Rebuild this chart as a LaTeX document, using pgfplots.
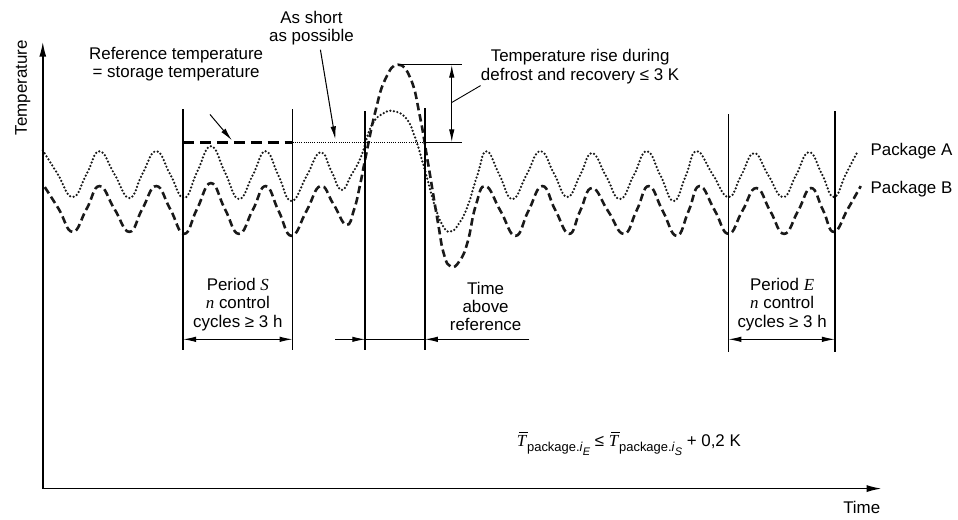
\documentclass[border=0pt]{standalone}
\usepackage{pgfplots}
\pgfplotsset{compat=1.18}
\usetikzlibrary{arrows.meta}
\usepackage{fontspec}
\setmainfont{Liberation Sans}
\newfontfamily\seriffam{Liberation Serif}
\newcommand{\Tbar}[1]{\leavevmode\rlap{\kern0.12em\raisebox{0.8em}{\rule{0.55em}{0.8bp}}}{\seriffam\itshape T\kern0.05em}\raisebox{-0.5ex}{\fontsize{13bp}{13bp}\selectfont package.\textit{i}\raisebox{-0.55ex}{\fontsize{11bp}{11bp}\selectfont\textit{#1}}}}
\begin{document}
\fontsize{17bp}{18.5bp}\selectfont
\begin{tikzpicture}[>={Latex[length=13bp,width=5.5bp]}]
\begin{axis}[
  hide axis, scale only axis, width=958bp, height=517bp,
  xmin=0, xmax=958, ymin=0, ymax=517, y dir=reverse, clip=false]
\path (axis cs:0,0) rectangle (axis cs:958,517);
% Package A (dotted)
\addplot[black!90, line width=2.5bp, line cap=round, dash pattern=on 0bp off 3.6bp, smooth, tension=0.8] coordinates {
(43,151)(58,175)(73,198)(87,175)(100,152)(115,175)(130,199)(143,175)(157,152)(171,175)
(185,199)(198,173)(212,147)(226,173)(240,200)(254,176)(267,152)(280,177)(293,202)(308,177)
(322,153)(333,172)(343,191)(353,176)(363,157)(373,127)(385,114)(397,112)(409,120)(417,138)
(423,157)(430,182)(437,207)(444,225)(452,233)(461,225)(470,207)(480,175)(489,152)(502,176)
(515,200)(529,176)(543,152)(557,175)(570,198)(583,176)(595,154)(609,177)(623,200)(637,176)
(650,152)(664,177)(677,202)(689,177)(700,152)(716,175)(732,198)(745,176)(758,154)(772,176)
(787,198)(800,176)(813,153)(826,175)(838,198)(850,175)(862,152)};
% Package B (dashed)
\addplot[black!90, line width=2.6bp, dash pattern=on 7.5bp off 4bp, smooth, tension=0.8] coordinates {
(45,188)(59,210)(73,233)(87,210)(100,187)(115,210)(130,233)(143,210)(157,187)(171,210)
(185,235)(198,210)(212,184)(226,210)(240,235)(254,211)(267,187)(280,212)(293,237)(308,212)
(322,187)(335,205)(348,226)(356,210)(362,185)(368,155)(377,113)(387,80)(400,65)(413,80)
(422,117)(430,163)(440,223)(446,255)(453,268)(462,262)(470,243)(478,207)(488,187)(503,212)
(518,237)(531,212)(545,187)(558,211)(572,235)(583,212)(595,189)(611,212)(627,235)(640,211)
(652,187)(666,212)(680,237)(692,212)(703,187)(718,211)(732,235)(746,212)(760,189)(774,212)
(788,235)(802,212)(815,189)(827,211)(838,233)(852,210)(865,187)};
% axes
\draw[line width=1.5bp, ->, >={Latex[length=15bp,width=7bp]}] (axis cs:43,491) -- (axis cs:43,42);
\draw[line width=1.5bp, ->, >={Latex[length=15bp,width=7bp]}] (axis cs:43,491) -- (axis cs:886,491);
% vertical lines
\draw[line width=1.4bp] (axis cs:184,110) -- (axis cs:184,352);
\draw[line width=1.4bp] (axis cs:294,110) -- (axis cs:294,352);
\draw[line width=1.4bp] (axis cs:367,112) -- (axis cs:367,352);
\draw[line width=1.4bp] (axis cs:427,109) -- (axis cs:427,352);
\draw[line width=1.4bp] (axis cs:732,115) -- (axis cs:732,354);
\draw[line width=1.4bp] (axis cs:839,112) -- (axis cs:839,354);
% reference lines
\draw[line width=2.8bp, dash pattern=on 11bp off 6bp] (axis cs:184,143) -- (axis cs:294,143);
\draw[line width=1bp, dash pattern=on 1bp off 1.2bp] (axis cs:294,143) -- (axis cs:427,143);
\draw[line width=1.2bp] (axis cs:427,143) -- (axis cs:464,143);
\draw[line width=1.2bp] (axis cs:400,65) -- (axis cs:464,65);
\draw[line width=1.2bp, <->] (axis cs:454,65) -- (axis cs:454,143);
\draw[line width=0.9bp] (axis cs:454,103) -- (axis cs:483,86);
% leader arrows
\draw[line width=1bp, ->] (axis cs:211,115) -- (axis cs:233,141);
\draw[line width=1bp, ->] (axis cs:322,50) -- (axis cs:337,140);
% period arrows
\draw[line width=1bp, <->] (axis cs:184,341) -- (axis cs:294,341);
\draw[line width=1bp, <->] (axis cs:732,341) -- (axis cs:839,341);
\draw[line width=1bp, ->] (axis cs:337,341) -- (axis cs:367,341);
\draw[line width=0.8bp] (axis cs:367,341) -- (axis cs:427,341);
\draw[line width=1bp, ->] (axis cs:532,341) -- (axis cs:427,341);
% texts
\node[rotate=90] at (axis cs:23,88) {Temperature};
\node[align=center] at (axis cs:177,64.5) {Reference temperature\\= storage temperature};
\node[align=center] at (axis cs:313,28) {As short\\as possible};
\node[align=center] at (axis cs:583,67) {Temperature rise during\\defrost and recovery ≤ 3 K};
\node[anchor=west] at (axis cs:869,152) {Package A};
\node[anchor=west] at (axis cs:869,190) {Package B};
\node[align=center] at (axis cs:239,306) {Period {\seriffam\itshape S}\\{\seriffam\itshape n} control\\cycles ≥ 3 h};
\node[align=center] at (axis cs:488,308) {Time\\above\\reference};
\node[align=center] at (axis cs:786,306) {Period {\seriffam\itshape E}\\{\seriffam\itshape n} control\\cycles ≥ 3 h};
\node at (axis cs:632,446) {\Tbar{E} ≤ \Tbar{S} + 0,2 K};
\node at (axis cs:866,510) {Time};
\end{axis}
\end{tikzpicture}
\end{document}
